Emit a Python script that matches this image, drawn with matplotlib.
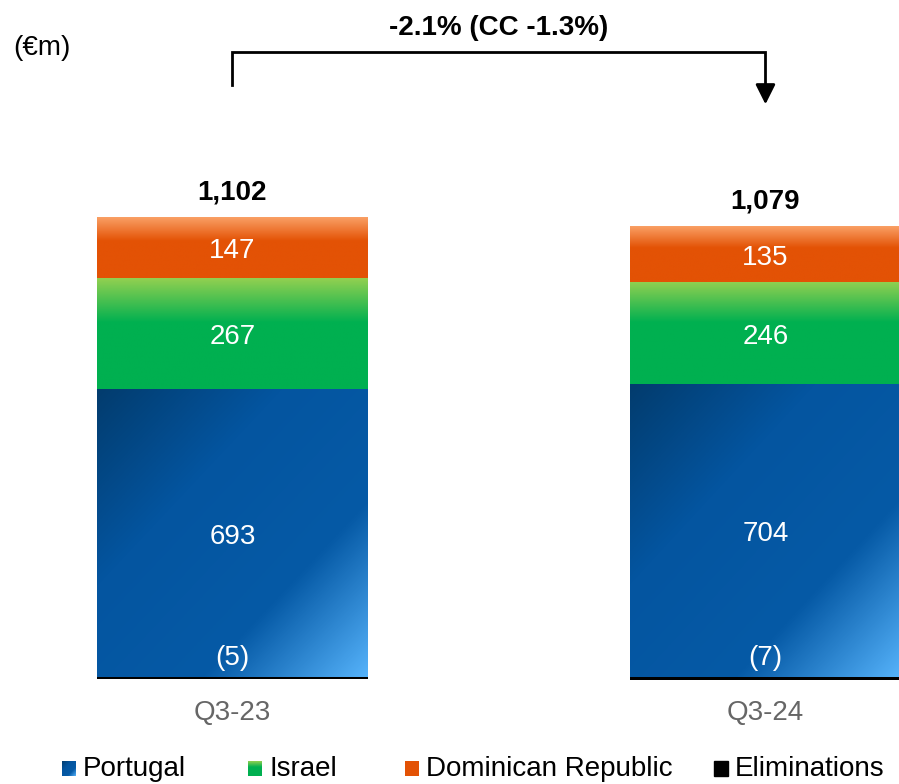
import numpy as np
import matplotlib.pyplot as plt
from matplotlib.colors import LinearSegmentedColormap
from matplotlib.patches import Rectangle

plt.rcParams['font.family'] = ['Liberation Sans', 'DejaVu Sans']

# data (EUR m)
periods = ['Q3-23', 'Q3-24']
portugal = [693, 704]
israel = [267, 246]
dominican = [147, 135]
eliminations = [-5, -7]
totals = [1102, 1079]
change_text = '-2.1% (CC -1.3%)'
legend_names = ['Portugal', 'Israel', 'Dominican Republic', 'Eliminations']

# gradient colour maps
cm_blue = LinearSegmentedColormap.from_list('pt', [(0, '#023c6e'), (0.34, '#0455a0'),
                                                   (0.7, '#065aa6'), (1, '#55b2fa')])
cm_green = LinearSegmentedColormap.from_list('il', [(0, '#92d050'), (0.4, '#00b050'), (1, '#00b050')])
cm_orange = LinearSegmentedColormap.from_list('do', [(0, '#fba369'), (0.4, '#e35205'), (1, '#e35205')])

fig = plt.figure(figsize=(8.99, 7.84), dpi=100)
ax = fig.add_axes([0, 0, 1, 1])
ax.set_xlim(-0.436, 1.2505)
ax.set_ylim(-257.5, 1629)
ax.axis('off')

x = np.arange(len(periods))
w = 0.508

# vertical and diagonal gradients
n = 200
vert = np.tile(np.linspace(0, 1, n)[:, None], (1, n))
uu, vv = np.meshgrid(np.linspace(0, 1, n), np.linspace(0, 1, n))
diag = (uu + vv) / 2


def fill_gradient(bars, grad, cmap):
    for b in bars:
        x0, y0 = b.get_x(), b.get_y()
        x1, y1 = x0 + b.get_width(), y0 + b.get_height()
        im = ax.imshow(grad, cmap=cmap, extent=(x0, x1, y0, y1), origin='upper',
                       aspect='auto', interpolation='bilinear', zorder=2, vmin=0, vmax=1)
        im.set_clip_path(b)
        b.set_alpha(0)


ax.bar(x, eliminations, w, color='black', zorder=3)
b_pt = ax.bar(x, portugal, w, color='#0455a0', zorder=1)
b_il = ax.bar(x, israel, w, bottom=portugal, color='#00b050', zorder=1)
bottom_do = [p + i for p, i in zip(portugal, israel)]
b_do = ax.bar(x, dominican, w, bottom=bottom_do, color='#e35205', zorder=1)

fill_gradient(b_pt, diag, cm_blue)
fill_gradient(b_il, vert, cm_green)
fill_gradient(b_do, vert, cm_orange)

# segment labels sit a touch below the segment middle
dy = -9
lab = dict(color='white', fontsize=20, ha='center', va='center', zorder=5)
for i in range(len(periods)):
    ax.text(x[i], portugal[i] / 2 + dy, f'{portugal[i]}', **lab)
    ax.text(x[i], portugal[i] + israel[i] / 2 + dy, f'{israel[i]}', **lab)
    ax.text(x[i], bottom_do[i] + dominican[i] / 2 + dy, f'{dominican[i]}', **lab)
    ax.text(x[i], 46, f'({-eliminations[i]})', **lab)
    ax.text(x[i], totals[i] + 65, f'{totals[i]:,}', fontsize=20, fontweight='bold',
            ha='center', va='center')
    ax.text(x[i], -87, periods[i], fontsize=20, color='#666666', ha='center', va='center')

# change bracket with arrow
ax.plot([x[0], x[0], x[1], x[1]], [1424, 1504, 1504, 1420], color='black', lw=2,
        solid_joinstyle='miter', zorder=4)
ax.annotate('', xy=(x[1], 1378), xytext=(x[1], 1425),
            arrowprops=dict(arrowstyle='-|>', color='black', lw=2,
                            mutation_scale=30, shrinkA=0, shrinkB=0))
ax.text((x[0] + x[1]) / 2, 1562, change_text, fontsize=20, fontweight='bold',
        ha='center', va='center')
ax.text(-0.357, 1514, '(€m)', fontsize=20, ha='center', va='center')

# legend along the bottom
legend_x = [62, 248, 405, 714]
legend_grads = [(diag, cm_blue), (vert, cm_green), (vert[::-1] * 0.5 + 0.5, cm_orange), (None, None)]
for px, name, (g, cm) in zip(legend_x, legend_names, legend_grads):
    fx0, fy0 = px / 899, 1 - 776 / 784
    fw, fh = 14 / 899, 15 / 784
    if g is None:
        fig.patches.append(Rectangle((fx0, fy0), fw, fh, transform=fig.transFigure,
                                     color='black'))
    else:
        lax = fig.add_axes([fx0, fy0, fw, fh])
        lax.imshow(g, cmap=cm, aspect='auto', vmin=0, vmax=1)
        lax.axis('off')
    fig.text((px + 21) / 899, 1 - 769 / 784, name, fontsize=20, ha='left', va='center')

fig.savefig('out.png', dpi=100)
